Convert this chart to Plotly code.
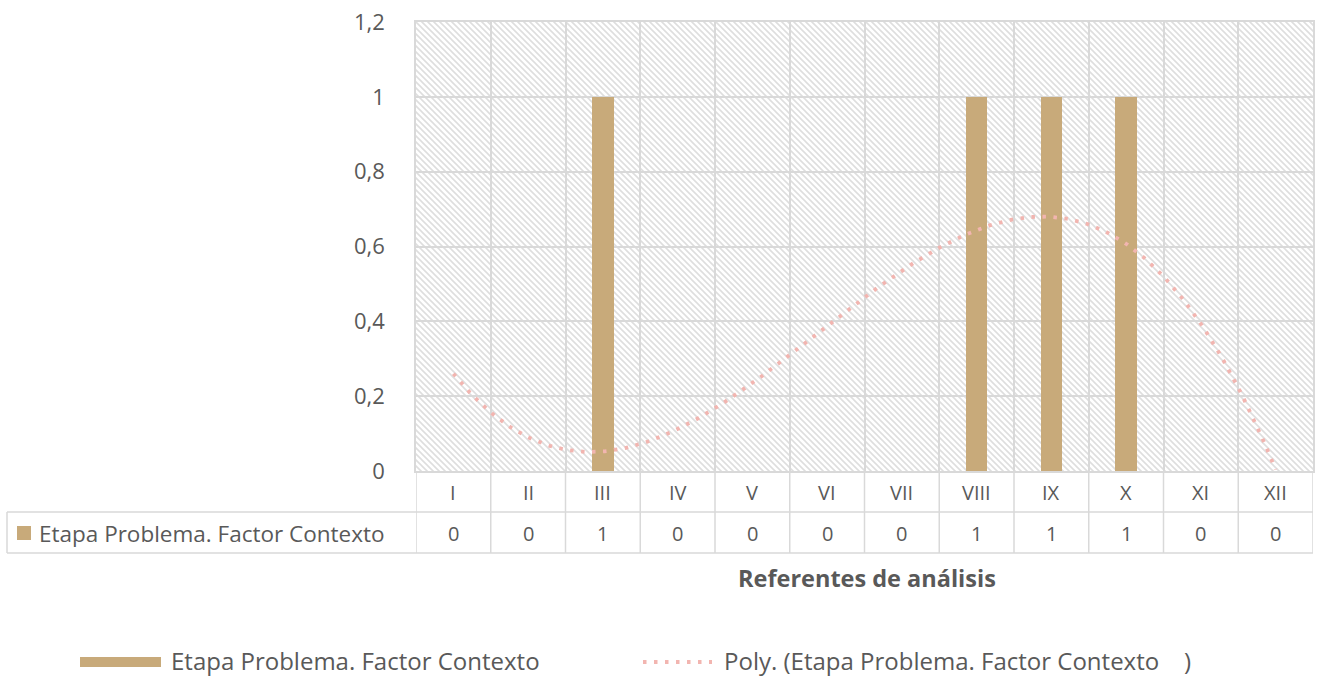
import base64
import numpy as np
import plotly.graph_objects as go

# ---- data ----
categories = ["I", "II", "III", "IV", "V", "VI", "VII", "VIII", "IX", "X", "XI", "XII"]
values = [0, 0, 1, 0, 0, 0, 0, 1, 1, 1, 0, 0]
series_name = "Etapa Problema. Factor Contexto"
trend_name = "Poly. (Etapa Problema. Factor Contexto\u00a0\u00a0\u00a0\u00a0)"
y_ticks = [0, 0.2, 0.4, 0.6, 0.8, 1, 1.2]

# ---- style ----
W, H = 1320, 677
PL, PR, PT, PB = 416, 1313, 22, 471  # plot area in screen pixels
ML, MR, MT, MB = PL, W - PR, PT, H - PB
PW, PH = PR - PL, PB - PT
BAR_COLOR = "#C8AA7A"
TREND_COLOR = "#F2B5B0"
GRID = "#D9D9D9"
TXT = "#595959"
FONT = "Open Sans"
DOTS = "3.5px,7.5px"


def px(xpix):
    return (xpix - PL) / PW


def py(ypix):
    return (PB - ypix) / PH


xs = list(range(len(categories)))

# polynomial (order 3) trendline, as the spreadsheet computes it
coef = np.polyfit(np.arange(1, len(values) + 1), values, 3)
tx = np.linspace(1, len(values), 300)
ty = np.polyval(coef, tx)

fig = go.Figure()
fig.add_trace(go.Bar(x=xs, y=values, width=0.285, marker_color=BAR_COLOR,
                     marker_line_width=0, name=series_name, showlegend=False))
fig.add_trace(go.Scatter(x=tx - 1, y=ty, mode="lines", name=trend_name,
                         line=dict(color=TREND_COLOR, width=3.8, dash=DOTS),
                         showlegend=False, hoverinfo="skip"))

# hatched plot background
P = 6
svg = (f"<svg xmlns='http://www.w3.org/2000/svg' width='{PW}' height='{PH}' "
       f"viewBox='0 0 {PW} {PH}' preserveAspectRatio='none'>"
       f"<defs><pattern id='h' width='{P}' height='{P}' patternUnits='userSpaceOnUse'>"
       f"<path d='M0,0 L{P},{P} M-2,{P-2} L2,{P+2} M{P-2},-2 L{P+2},2' stroke='#DEDEDE' stroke-width='1.6'/>"
       "</pattern></defs>"
       f"<rect width='{PW}' height='{PH}' fill='white'/>"
       f"<rect width='{PW}' height='{PH}' fill='url(#h)'/></svg>")
uri = "data:image/svg+xml;base64," + base64.b64encode(svg.encode()).decode()
fig.add_layout_image(dict(source=uri, xref="paper", yref="paper", x=0, y=1,
                          sizex=1, sizey=1, sizing="stretch", layer="below",
                          xanchor="left", yanchor="top"))

shapes = []
row1_bot = py(512)
row2_bot = py(553)
LW = 1.5
for b in [i - 0.5 for i in range(len(categories) + 1)]:
    shapes.append(dict(type="line", xref="x", yref="paper", x0=b, x1=b, y0=0, y1=row2_bot,
                       line=dict(color=GRID, width=LW)))
for yy in (row1_bot, row2_bot):
    shapes.append(dict(type="line", xref="paper", yref="paper", x0=px(7), x1=1, y0=yy, y1=yy,
                       line=dict(color=GRID, width=LW)))
shapes.append(dict(type="line", xref="paper", yref="paper", x0=px(7), x1=px(7), y0=row1_bot,
                   y1=row2_bot, line=dict(color=GRID, width=LW)))
# swatch in table
shapes.append(dict(type="rect", xref="paper", yref="paper", x0=px(17), x1=px(31),
                   y0=py(540), y1=py(526), fillcolor=BAR_COLOR, line_width=0))
# bottom legend swatches
shapes.append(dict(type="rect", xref="paper", yref="paper", x0=px(80), x1=px(161),
                   y0=py(667), y1=py(657), fillcolor=BAR_COLOR, line_width=0))
shapes.append(dict(type="line", xref="paper", yref="paper", x0=px(643), x1=px(712),
                   y0=py(662), y1=py(662),
                   line=dict(color=TREND_COLOR, width=3.8, dash=DOTS)))

ann = []
for x, c, v in zip(xs, categories, values):
    ann.append(dict(x=x, y=py(492), xref="x", yref="paper", text=c, showarrow=False,
                    yanchor="middle", font=dict(family=FONT, size=20, color=TXT)))
    ann.append(dict(x=x, y=py(533), xref="x", yref="paper", text=str(v), showarrow=False,
                    yanchor="middle", font=dict(family=FONT, size=20, color=TXT)))
ann.append(dict(x=px(37), y=py(533), xref="paper", yref="paper", text=series_name,
                showarrow=False, xanchor="left", yanchor="middle",
                font=dict(family=FONT, size=22.5, color=TXT)))
ann.append(dict(x=px(867), y=py(578), xref="paper", yref="paper",
                text="<b>Referentes de análisis</b>", showarrow=False, yanchor="middle",
                font=dict(family=FONT, size=23.5, color=TXT)))
ann.append(dict(x=px(169), y=py(660), xref="paper", yref="paper", text=series_name,
                showarrow=False, xanchor="left", yanchor="middle",
                font=dict(family=FONT, size=24, color=TXT)))
ann.append(dict(x=px(722), y=py(660), xref="paper", yref="paper", text=trend_name,
                showarrow=False, xanchor="left", yanchor="middle",
                font=dict(family=FONT, size=24, color=TXT)))

fig.update_layout(
    width=W, height=H,
    margin=dict(l=ML, r=MR, t=MT, b=MB, pad=0, autoexpand=False),
    paper_bgcolor="white", plot_bgcolor="rgba(0,0,0,0)",
    separators=",.",
    shapes=shapes, annotations=ann,
    bargap=0,
    xaxis=dict(range=[-0.5, len(categories) - 0.5],
               tickvals=[i - 0.5 for i in range(len(categories) + 1)],
               showticklabels=False, showgrid=True, gridcolor=GRID, gridwidth=LW,
               zeroline=False, showline=True, linecolor=GRID, linewidth=LW, mirror=True,
               ticks="", automargin=False),
    yaxis=dict(range=[0, 1.2], tickvals=y_ticks, showgrid=True, gridcolor=GRID, gridwidth=LW,
               zeroline=False, showline=True, linecolor=GRID, linewidth=LW, mirror=True,
               ticks="", ticklabelstandoff=25, automargin=False, ticklabeloverflow="allow",
               tickfont=dict(family=FONT, size=22, color=TXT)),
    showlegend=False,
)

fig.write_html("out.html", config={"displayModeBar": False},
               post_script="document.body.style.margin='0px';document.body.style.overflow='hidden';")
